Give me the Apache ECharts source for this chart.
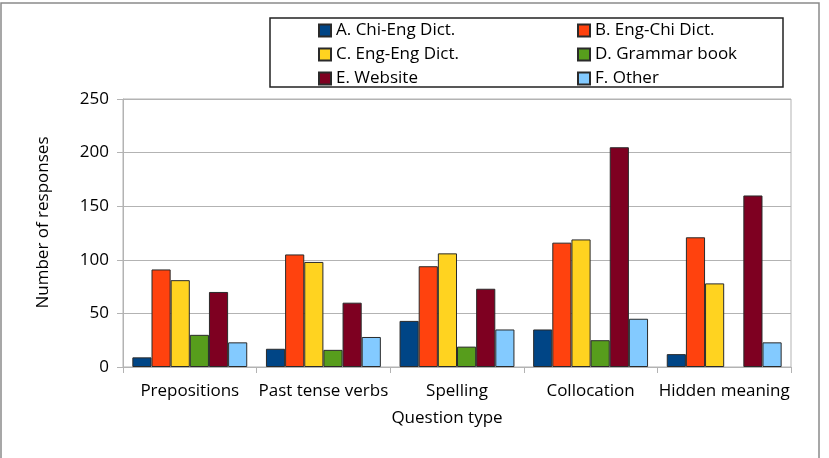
<!DOCTYPE html>
<html>
<head>
<meta charset="utf-8">
<script src="https://cdn.jsdelivr.net/npm/echarts@6/dist/echarts.min.js"></script>
<style>
  html, body { margin: 0; padding: 0; background: #fff; }
  #chart { width: 829px; height: 458px; }
</style>
</head>
<body>
<div id="chart"></div>
<script>
const questionTypes = ["Prepositions", "Past tense verbs", "Spelling", "Collocation", "Hidden meaning"]
const yTicks = [0, 50, 100, 150, 200, 250]

const chiEngDict = [9, 17, 43, 35, 12]
const engChiDict = [91, 105, 94, 116, 121]
const engEngDict = [81, 98, 106, 119, 78]
const grammarBook = [30, 16, 19, 25, 0]
const website = [70, 60, 73, 205, 160]
const other = [23, 28, 35, 45, 23]

const seriesNames = ["A. Chi-Eng Dict.", "B. Eng-Chi Dict.", "C. Eng-Eng Dict.", "D. Grammar book", "E. Website", "F. Other"]
const seriesData = [chiEngDict, engChiDict, engEngDict, grammarBook, website, other]
const seriesColors = ["#004586", "#ff420e", "#ffd320", "#579d1c", "#7e0021", "#83caff"]

const font = "'Open Sans', sans-serif"
const gridColor = "#b3b3b3"
const textColor = "#000"

let chartDom = document.getElementById('chart')
let myChart = echarts.init(chartDom, null, {renderer: 'canvas'})

// zero-height bars get no outline, so nothing shows on the baseline
let series = seriesNames.map((name, i) => ({
    name: name,
    type: 'bar',
    data: seriesData[i].map(v => v === 0 ? {value: v, itemStyle: {borderWidth: 0}} : v),
    barGap: '0%',
    barCategoryGap: '14%',
    itemStyle: {color: seriesColors[i], borderColor: '#2a2a2a', borderWidth: 1}
}))

let legendCommon = {
    orient: 'vertical',
    top: 22,
    icon: 'rect',
    itemWidth: 12,
    itemHeight: 12,
    itemGap: 7,
    padding: 0,
    selectedMode: false,
    textStyle: {fontFamily: font, fontSize: 17, color: textColor}
}

let option = {
    animation: false,
    backgroundColor: '#fff',
    graphic: [
        {type: 'rect', shape: {x: 1, y: 3, width: 818, height: 470}, style: {fill: 'none', stroke: '#8a8a8a', lineWidth: 1.5}, silent: true},
        {type: 'rect', shape: {x: 270, y: 18, width: 513, height: 69}, style: {fill: 'none', stroke: '#222', lineWidth: 1.5}, silent: true}
    ],
    legend: [
        Object.assign({}, legendCommon, {left: 318, data: [seriesNames[0], seriesNames[2], seriesNames[4]]}),
        Object.assign({}, legendCommon, {left: 577, data: [seriesNames[1], seriesNames[3], seriesNames[5]]})
    ],
    grid: {
        left: 123, right: 38, top: 99, bottom: 91,
        show: true, borderColor: gridColor, borderWidth: 1
    },
    xAxis: {
        type: 'category',
        data: questionTypes,
        name: 'Question type',
        nameLocation: 'middle',
        nameGap: 43,
        nameTextStyle: {fontFamily: font, fontSize: 17, color: textColor, padding: [0, 20, 0, 0]},
        axisLine: {lineStyle: {color: gridColor}},
        axisTick: {show: true, length: 6, lineStyle: {color: gridColor}},
        axisLabel: {fontFamily: font, fontSize: 17, color: textColor, margin: 16, interval: 0}
    },
    yAxis: {
        type: 'value',
        min: yTicks[0],
        max: yTicks[yTicks.length - 1],
        interval: 50,
        name: 'Number of responses',
        nameLocation: 'middle',
        nameGap: 71,
        nameTextStyle: {fontFamily: font, fontSize: 17, color: textColor, padding: [0, 0, 0, 21]},
        axisLine: {show: true, lineStyle: {color: gridColor}},
        axisTick: {show: true, length: 6, lineStyle: {color: gridColor}},
        splitLine: {lineStyle: {color: gridColor}},
        axisLabel: {fontFamily: font, fontSize: 17, color: textColor, margin: 14}
    },
    series: series
}

myChart.setOption(option)
</script>
</body>
</html>
